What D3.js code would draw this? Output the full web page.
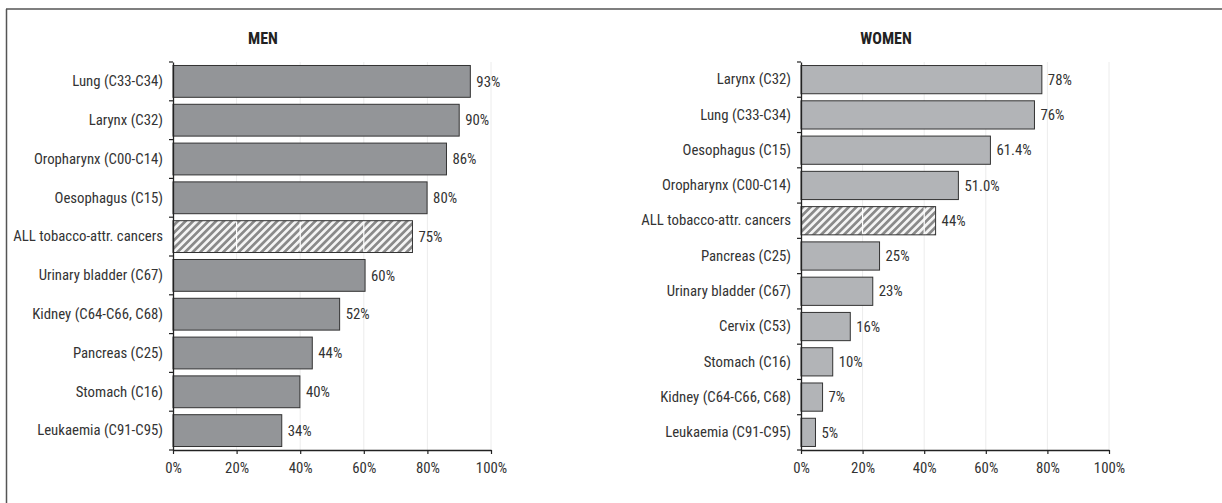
<!DOCTYPE html>
<html><head><meta charset="utf-8">
<script src="https://cdn.jsdelivr.net/npm/d3@7"></script>
<style>
body{margin:0;background:#fff;}
text{font-family:"Roboto Condensed","Roboto",sans-serif;}
</style></head>
<body><svg id="c" width="1222" height="503"></svg>
<script>
const menCategories = ["Lung (C33-C34)","Larynx (C32)","Oropharynx (C00-C14)","Oesophagus (C15)","ALL tobacco-attr. cancers","Urinary bladder (C67)","Kidney (C64-C66, C68)","Pancreas (C25)","Stomach (C16)","Leukaemia (C91-C95)"];
const menValues = [93.5, 90.0, 86.0, 79.9, 75.3, 60.4, 52.4, 43.8, 39.9, 34.2];
const menLabels = ["93%","90%","86%","80%","75%","60%","52%","44%","40%","34%"];
const womenCategories = ["Larynx (C32)","Lung (C33-C34)","Oesophagus (C15)","Oropharynx (C00-C14)","ALL tobacco-attr. cancers","Pancreas (C25)","Urinary bladder (C67)","Cervix (C53)","Stomach (C16)","Kidney (C64-C66, C68)","Leukaemia (C91-C95)"];
const womenValues = [78.2, 75.8, 61.5, 51.1, 43.7, 25.5, 23.3, 16.0, 10.3, 7.0, 4.7];
const womenLabels = ["78%","76%","61.4%","51.0%","44%","25%","23%","16%","10%","7%","5%"];
const xTicks = [0,20,40,60,80,100];
const xTickLabels = ["0%","20%","40%","60%","80%","100%"];
const allCategory = "ALL tobacco-attr. cancers";

const FS = 14.8;
const FF = '"Roboto Condensed","Roboto",sans-serif';
const svg = d3.select("#c");
const defs = svg.append("defs");
const pat = defs.append("pattern").attr("id","hatch").attr("patternUnits","userSpaceOnUse")
  .attr("width",5.4).attr("height",5.4).attr("patternTransform","rotate(45)");
pat.append("rect").attr("width",5.4).attr("height",5.4).attr("fill","#f4f4f4");
pat.append("rect").attr("x",0).attr("width",2.7).attr("height",5.4).attr("fill","#8a8a8a");

// frame
svg.append("line").attr("x1",6.5).attr("x2",6.5).attr("y1",9).attr("y2",503).attr("stroke","#555").attr("stroke-width",1.5);
svg.append("line").attr("x1",6).attr("x2",1222).attr("y1",9).attr("y2",9).attr("stroke","#555").attr("stroke-width",1.5);

function panel(cats, vals, labels, x0, x1, title, titleX, fill, pad){
  const g = svg.append("g");
  const x = d3.scaleLinear().domain([0,100]).range([x0,x1]);
  const y = d3.scaleBand().domain(cats).range([62,450]).paddingInner(pad).paddingOuter(pad/2);
  // gridlines
  g.selectAll("line.grid").data(xTicks.slice(1)).join("line")
    .attr("x1",d=>x(d)).attr("x2",d=>x(d)).attr("y1",62).attr("y2",450)
    .attr("stroke","#ececec").attr("stroke-width",1);
  // bars
  g.selectAll("rect.bar").data(cats).join("rect")
    .attr("x",x(0)).attr("y",d=>y(d))
    .attr("width",(d,i)=>x(vals[i])-x(0)).attr("height",y.bandwidth())
    .attr("fill",d=>d===allCategory?"url(#hatch)":fill)
    .attr("stroke","#333").attr("stroke-width",1);
  // white gridlines through hatched bar
  const ai = cats.indexOf(allCategory);
  g.selectAll("line.hg").data(xTicks.slice(1).filter(t=>t<vals[ai])).join("line")
    .attr("x1",d=>x(d)).attr("x2",d=>x(d)).attr("y1",y(allCategory)+1).attr("y2",y(allCategory)+y.bandwidth()-1)
    .attr("stroke","#fff").attr("stroke-width",1.2);
  // value labels
  g.selectAll("text.val").data(cats).join("text")
    .attr("x",(d,i)=>x(vals[i])+6).attr("y",d=>y(d)+y.bandwidth()/2)
    .attr("dy","0.35em").attr("font-size",FS).attr("fill","#333")
    .text((d,i)=>labels[i]);
  // y axis
  const ya = g.append("g").attr("transform",`translate(${x0},0)`)
    .call(d3.axisLeft(y).tickSize(0).tickPadding(10));
  ya.select(".domain").attr("stroke","#222").attr("stroke-width",1.3);
  ya.selectAll("text").attr("font-size",FS).attr("fill","#333").attr("font-family",FF);
  // band boundary ticks
  const bounds = cats.map(c=>y(c)-y.step()*y.paddingInner()/2).concat([450]);
  g.selectAll("line.bt").data(bounds).join("line")
    .attr("x1",x0-4).attr("x2",x0).attr("y1",d=>d).attr("y2",d=>d)
    .attr("stroke","#222").attr("stroke-width",1.2);
  // x axis
  const xa = g.append("g").attr("transform","translate(0,450)")
    .call(d3.axisBottom(x).tickValues(xTicks).tickFormat((d,i)=>xTickLabels[i]).tickSizeInner(4).tickSizeOuter(0).tickPadding(8));
  xa.select(".domain").attr("stroke","#222").attr("stroke-width",1.3);
  xa.selectAll(".tick line").attr("stroke","#222").attr("stroke-width",1.2);
  xa.selectAll("text").attr("font-size",FS).attr("fill","#333").attr("font-family",FF);
  // title
  g.append("text").attr("x",titleX).attr("y",44).attr("text-anchor","middle")
    .attr("font-size",16).attr("font-weight","bold").attr("fill","#222").text(title);
}
panel(menCategories, menValues, menLabels, 173, 491, "MEN", 263, "#939598", 0.18);
panel(womenCategories, womenValues, womenLabels, 801, 1109, "WOMEN", 886, "#b2b4b7", 0.2);
</script></body></html>
